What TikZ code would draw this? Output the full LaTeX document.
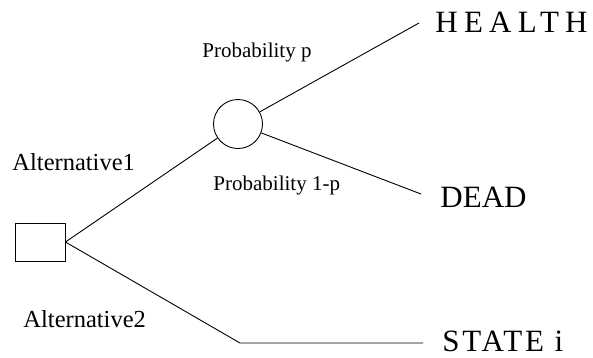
\documentclass[tikz,border=0pt]{standalone}
\usepackage{fontspec}
\setmainfont{Liberation Serif}
\newfontfamily\spacedfont[LetterSpace=20]{Liberation Serif}
\newfontfamily\looserfont[LetterSpace=9]{Liberation Serif}
\usetikzlibrary{positioning}

\begin{document}
\begin{tikzpicture}[x=1pt, y=-1pt, line width=0.9pt,
    outcome/.style={anchor=base west, inner sep=0pt, text depth=0pt, font=\fontsize{31}{31}\selectfont},
    branch/.style={anchor=base west, inner sep=0pt, font=\fontsize{21}{21}\selectfont},
    choice/.style={anchor=base west, inner sep=0pt, font=\fontsize{24.5}{24.5}\selectfont}]
    \useasboundingbox (0,0) rectangle (593,357);

    % decision and chance nodes
    \node[draw, minimum width=50pt, minimum height=38pt, inner sep=0pt] (decision) at (40,242) {};
    \node[draw, circle, minimum size=49pt, inner sep=0pt] (chance) at (238,124) {};

    \coordinate (healthend) at (419,23);
    \coordinate (deadend) at (421,194);
    \coordinate (corner) at (240,343);
    \coordinate (stateend) at (423,343);

    \draw (decision.east) -- (chance);
    \draw (decision.east) -- (corner) -- (stateend);
    \draw (chance) -- (healthend);
    \draw (chance) -- (deadend);

    % labels
    \node[choice] (alt1) at (12,170) {Alternative1};
    \node[choice] (alt2) at (23,327) {Alternative2};
    \node[branch] (probp) at (202,57) {Probability p};
    \node[branch] (probq) at (213,190) {Probability 1-p};
    \node[outcome, font=\fontsize{31}{31}\spacedfont] (health) at (435,32) {HEALTH};
    \node[outcome] (dead) at (440,207) {DEAD};
    \node[outcome, font=\fontsize{31}{31}\looserfont] (state) at (442,351) {STATE i};
\end{tikzpicture}
\end{document}
